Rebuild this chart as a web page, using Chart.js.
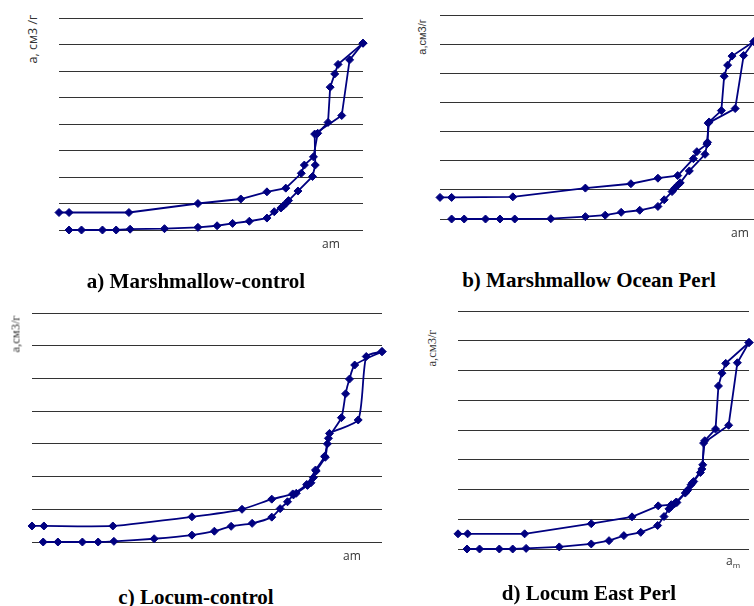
<!DOCTYPE html>
<html>
<head>
<meta charset="utf-8">
<script src="https://cdn.jsdelivr.net/npm/chart.js@4.4.0/dist/chart.umd.min.js"></script>
<style>
  html, body { margin: 0; padding: 0; background: #fff; overflow: hidden; }
  #page { position: relative; width: 754px; height: 606px; }
  .box { position: absolute; }
  .lbl { position: absolute; white-space: nowrap; color: #333; transform: translate(-50%, -50%); }
  .rot { transform: translate(-50%, -50%) rotate(-90deg); }
  .sans { font-family: "Open Sans", sans-serif; }
  .serif { font-family: "Liberation Serif", serif; }
  .title { font-family: "Liberation Serif", serif; font-weight: bold; font-size: 21px; color: #000; }
</style>
</head>
<body>
<div id="page">
  <div class="box" id="boxA"><canvas id="chartA"></canvas></div>
  <div class="box" id="boxB"><canvas id="chartB"></canvas></div>
  <div class="box" id="boxC"><canvas id="chartC"></canvas></div>
  <div class="box" id="boxD"><canvas id="chartD"></canvas></div>

  <div class="lbl rot sans" style="left:32px; top:39px; font-size:12.5px;">а, см3 /г</div>
  <div class="lbl sans" style="left:331px; top:243px; font-size:12px;">am</div>
  <div class="lbl title" style="left:196px; top:281px;">a) Marshmallow-control</div>

  <div class="lbl rot sans" style="left:422px; top:37px; font-size:11px; font-family:'Liberation Sans',sans-serif;">а,см3/г</div>
  <div class="lbl sans" style="left:740px; top:232px; font-size:12px;">am</div>
  <div class="lbl title" style="left:589px; top:280px;">b) Marshmallow Ocean Perl</div>

  <div class="lbl rot serif" style="left:16px; top:334px; font-size:12.5px;">а,см3/г</div>
  <div class="lbl sans" style="left:352px; top:555px; font-size:12px;">am</div>
  <div class="lbl title" style="left:196px; top:597px;">c) Locum-control</div>

  <div class="lbl rot serif" style="left:432px; top:348px; font-size:12.5px;">а,см3/г</div>
  <div class="lbl sans" style="left:733px; top:561px; font-size:12px;">a<sub style="font-size:8px;">m</sub></div>
  <div class="lbl title" style="left:589px; top:593px;">d) Locum East Perl</div>
</div>

<script>
// a) Marshmallow-control
const aAdsX = [0.033, 0.074, 0.143, 0.188, 0.234, 0.347, 0.457, 0.520, 0.571, 0.626, 0.684, 0.708, 0.730, 0.738, 0.747, 0.755, 0.786, 0.834, 0.843, 0.841, 0.930, 0.956, 1.0];
const aAdsY = [0, 0, 0, 0, 0.03, 0.05, 0.10, 0.16, 0.25, 0.33, 0.45, 0.69, 0.83, 0.91, 1.01, 1.11, 1.47, 2.02, 2.45, 3.62, 4.32, 6.42, 7.05];
const aDesX = [1.0, 0.918, 0.907, 0.892, 0.885, 0.851, 0.837, 0.807, 0.797, 0.746, 0.684, 0.598, 0.457, 0.230, 0.033, 0];
const aDesY = [7.05, 6.25, 5.89, 5.39, 4.06, 3.65, 2.76, 2.45, 2.14, 1.58, 1.44, 1.17, 1.00, 0.66, 0.66, 0.66];

// b) Marshmallow Ocean Perl
const bAdsX = [0.037, 0.077, 0.145, 0.191, 0.238, 0.353, 0.463, 0.526, 0.577, 0.636, 0.694, 0.714, 0.739, 0.747, 0.757, 0.765, 0.794, 0.844, 0.852, 0.854, 0.940, 0.967, 1.0];
const bAdsY = [0, 0, 0, 0, 0, 0.01, 0.08, 0.13, 0.23, 0.30, 0.43, 0.66, 0.94, 1.05, 1.16, 1.24, 1.65, 2.22, 2.63, 3.29, 3.79, 5.61, 6.09];
const bDesX = [1.0, 0.930, 0.916, 0.905, 0.896, 0.857, 0.850, 0.818, 0.807, 0.757, 0.694, 0.608, 0.463, 0.232, 0.037, 0];
const bDesY = [6.09, 5.59, 5.28, 4.90, 3.72, 3.33, 2.57, 2.31, 2.07, 1.49, 1.40, 1.21, 1.06, 0.76, 0.74, 0.74];

// c) Locum-control
const cAdsX = [0.032, 0.074, 0.144, 0.189, 0.234, 0.349, 0.457, 0.521, 0.569, 0.629, 0.685, 0.709, 0.730, 0.747, 0.755, 0.787, 0.797, 0.804, 0.812, 0.838, 0.844, 0.850, 0.932, 0.955, 1.0];
const cAdsY = [0, 0, 0, 0, 0.02, 0.10, 0.21, 0.33, 0.48, 0.57, 0.76, 1.02, 1.23, 1.44, 1.49, 1.73, 1.81, 1.97, 2.17, 2.59, 3.00, 3.32, 3.73, 5.67, 5.82];
const cDesX = [1.0, 0.922, 0.907, 0.896, 0.884, 0.847, 0.836, 0.810, 0.785, 0.745, 0.685, 0.600, 0.457, 0.231, 0.034, 0];
const cDesY = [5.82, 5.41, 4.98, 4.53, 3.80, 3.17, 2.62, 2.20, 1.76, 1.47, 1.31, 1.00, 0.77, 0.49, 0.49, 0.49];

// d) Locum East Perl
const dAdsX = [0.031, 0.074, 0.142, 0.188, 0.234, 0.348, 0.458, 0.519, 0.570, 0.628, 0.686, 0.708, 0.725, 0.733, 0.744, 0.752, 0.781, 0.790, 0.801, 0.810, 0.833, 0.841, 0.844, 0.930, 0.960, 1.0];
const dAdsY = [0, 0, 0, 0, 0.02, 0.07, 0.17, 0.28, 0.45, 0.56, 0.79, 1.09, 1.35, 1.43, 1.52, 1.56, 1.88, 1.99, 2.16, 2.27, 2.57, 2.83, 3.56, 4.16, 6.26, 6.94];
const dDesX = [1.0, 0.920, 0.907, 0.895, 0.885, 0.848, 0.838, 0.805, 0.787, 0.750, 0.733, 0.688, 0.598, 0.458, 0.229, 0.033, 0];
const dDesY = [6.94, 6.24, 5.91, 5.48, 4.03, 3.64, 2.69, 2.22, 1.95, 1.58, 1.49, 1.45, 1.08, 0.85, 0.51, 0.51, 0.51];

const navy = '#000080';
const pad = 10;

function pts(xs, ys) {
    return xs.map((x, i) => ({ x: x, y: ys[i] }));
}

function branch(xs, ys, tension) {
    return {
        data: pts(xs, ys),
        showLine: true,
        borderColor: navy,
        backgroundColor: navy,
        borderWidth: 1.8,
        pointStyle: 'rectRot',
        pointRadius: 4,
        pointBorderWidth: 1,
        pointBorderColor: navy,
        pointBackgroundColor: navy,
        tension: tension,
        clip: false,
    };
}

// g: left, right, top, bottom of the grid on the page
function makeChart(id, boxId, g, yMax, ads, des, tension) {
    const w = g.right - g.left + 2 * pad;
    const h = g.bottom - g.top + 2 * pad;
    const box = document.getElementById(boxId);
    box.style.left = (g.left - pad) + 'px';
    box.style.top = (g.top - pad) + 'px';
    const cv = document.getElementById(id);
    cv.width = w;
    cv.height = h;
    return new Chart(cv.getContext('2d'), {
        type: 'scatter',
        data: { datasets: [branch(ads[0], ads[1], tension), branch(des[0], des[1], tension)] },
        options: {
            responsive: false,
            animation: false,
            devicePixelRatio: 1,
            layout: { padding: pad, autoPadding: false },
            plugins: { legend: { display: false }, tooltip: { enabled: false } },
            scales: {
                x: { type: 'linear', min: 0, max: 1, display: false },
                y: {
                    min: 0,
                    max: yMax,
                    ticks: { display: false, stepSize: 1 },
                    grid: { color: '#333', lineWidth: 1, drawTicks: false },
                    border: { display: false },
                },
            },
        },
    });
}

makeChart('chartA', 'boxA', { left: 59, right: 363, top: 18, bottom: 230 }, 8, [aAdsX, aAdsY], [aDesX, aDesY], 0);
makeChart('chartB', 'boxB', { left: 440, right: 754, top: 15, bottom: 219 }, 7, [bAdsX, bAdsY], [bDesX, bDesY], 0);
makeChart('chartC', 'boxC', { left: 32, right: 382, top: 313, bottom: 542 }, 7, [cAdsX, cAdsY], [cDesX, cDesY], 0.2);
makeChart('chartD', 'boxD', { left: 458, right: 749, top: 311, bottom: 549 }, 8, [dAdsX, dAdsY], [dDesX, dDesY], 0);
</script>
</body>
</html>
